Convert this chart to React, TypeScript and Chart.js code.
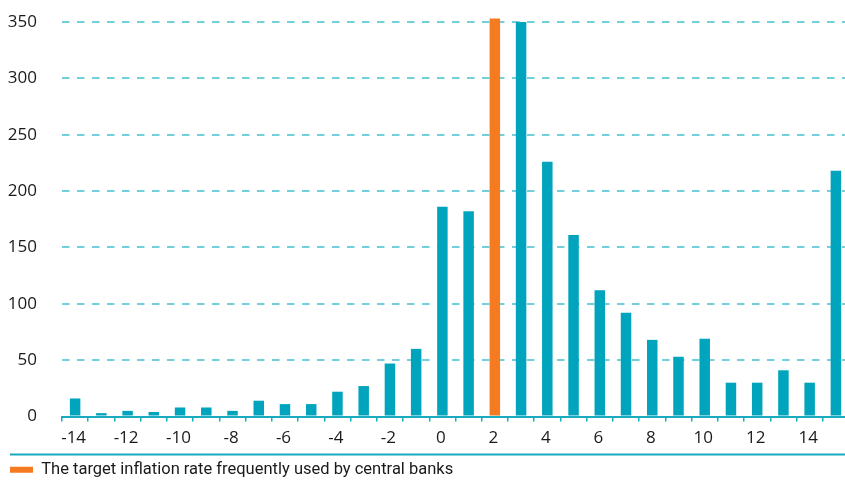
import { useEffect, useRef } from "react";
import { Chart, registerables } from "chart.js";

Chart.register(...registerables);

// ---- data ----
const categories: number[] = [
  -14, -13, -12, -11, -10, -9, -8, -7, -6, -5, -4, -3, -2, -1, 0,
  1, 2, 3, 4, 5, 6, 7, 8, 9, 10, 11, 12, 13, 14, 15,
];
const values: number[] = [
  16, 3, 5, 4, 8, 8, 5, 14, 11, 11, 22, 27, 47, 60, 186,
  182, 353, 350, 226, 161, 112, 92, 68, 53, 69, 30, 30, 41, 30, 218,
];
const targetCategory = 2;
const legendLabel = "The target inflation rate frequently used by central banks";
const yMin = 0;
const yMax = 350;
const yStep = 50;

// ---- styles ----
const TEAL = "#00a5bd";
const ORANGE = "#f47b20";
const GRID = "#72cfdb";
const AXIS = "#1aaac0";
const TEXT = "#1a1a1a";
const TICK_FONT = { family: "'Open Sans', 'Noto Sans', sans-serif", size: 17 };
const LEGEND_FONT = { family: "Roboto, sans-serif", size: 16.5 };

const separatorPlugin = {
  id: "separator",
  afterDraw(chart: any) {
    const { ctx, legend } = chart;
    if (!legend) return;
    const y = legend.top + 3;
    ctx.save();
    ctx.strokeStyle = AXIS;
    ctx.lineWidth = 2;
    ctx.beginPath();
    ctx.moveTo(10, y);
    ctx.lineTo(chart.width, y);
    ctx.stroke();
    ctx.restore();
  },
};

export default function App() {
  const canvasRef = useRef<HTMLCanvasElement | null>(null);

  useEffect(() => {
    document.body.style.margin = "0";
    document.body.style.overflow = "hidden";
    const canvas = canvasRef.current;
    if (!canvas) return;

    const otherData = values.map((v, i) => (categories[i] === targetCategory ? null : v));
    const targetData = values.map((v, i) => (categories[i] === targetCategory ? v : null));

    const chart = new Chart(canvas, {
      type: "bar",
      data: {
        labels: categories.map(String),
        datasets: [
          {
            label: "Other",
            data: otherData,
            backgroundColor: TEAL,
            borderWidth: 0,
            barPercentage: 0.4,
            categoryPercentage: 1,
            clip: false as any,
          },
          {
            label: legendLabel,
            data: targetData,
            backgroundColor: ORANGE,
            borderWidth: 0,
            barPercentage: 0.4,
            categoryPercentage: 1,
            clip: false as any,
          },
        ],
      },
      options: {
        animation: false,
        responsive: true,
        maintainAspectRatio: false,
        layout: { padding: { top: 22, left: 0, right: 0, bottom: 0 } },
        plugins: {
          tooltip: { enabled: false },
          legend: {
            display: true,
            position: "bottom",
            align: "start",
            labels: {
              boxWidth: 23,
              boxHeight: 6,
              padding: 10,
              color: TEXT,
              font: LEGEND_FONT,
              filter: (item: any) => item.datasetIndex === 1,
            },
          },
        },
        scales: {
          x: {
            stacked: true,
            offset: true,
            grid: {
              drawOnChartArea: false,
              drawTicks: true,
              tickLength: 5,
              color: AXIS,
              lineWidth: 1.5,
            },
            border: { display: true, color: AXIS, width: 2 },
            ticks: {
              autoSkip: false,
              maxRotation: 0,
              padding: 6,
              labelOffset: -1.5,
              color: TEXT,
              font: TICK_FONT,
              callback: (_v: any, i: number) =>
                categories[i] % 2 === 0 ? String(categories[i]) : "",
            },
            afterFit: (scale: any) => {
              scale.height = 35;
            },
          },
          y: {
            stacked: true,
            min: yMin,
            max: yMax,
            grid: {
              drawTicks: true,
              tickLength: 25,
              tickColor: "rgba(0,0,0,0)",
              lineWidth: 2,
              color: (c: any) => (c.tick && c.tick.value === 0 ? "rgba(0,0,0,0)" : GRID),
            },
            border: { display: false, dash: [7.5, 7.5] },
            ticks: {
              stepSize: yStep,
              padding: 0,
              color: TEXT,
              font: TICK_FONT,
            },
            afterFit: (scale: any) => {
              scale.width = 62;
            },
          },
        },
      },
      plugins: [separatorPlugin],
    });

    let alive = true;
    if ((document as any).fonts && (document as any).fonts.load) {
      Promise.all([
        (document as any).fonts.load("17px 'Open Sans'"),
        (document as any).fonts.load("16.5px Roboto"),
      ])
        .then(() => {
          if (alive) chart.update();
        })
        .catch(() => {});
    }

    return () => {
      alive = false;
      chart.destroy();
    };
  }, []);

  return (
    <div style={{ position: "relative", width: "849px", height: "488px" }}>
      <canvas ref={canvasRef} />
    </div>
  );
}
